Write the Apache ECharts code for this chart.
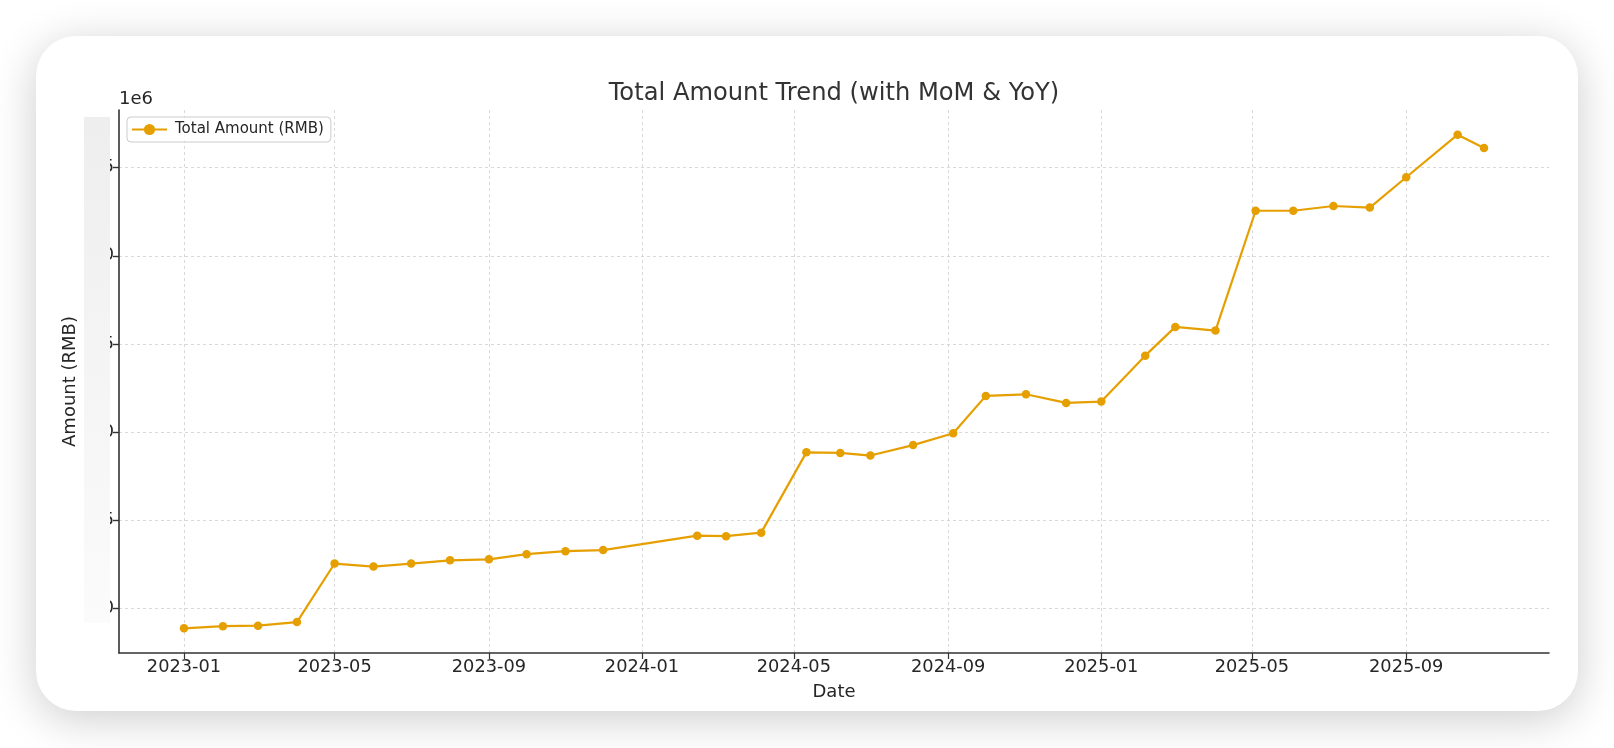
<!DOCTYPE html>
<html>
<head>
<meta charset="utf-8">
<script src="https://cdn.jsdelivr.net/npm/echarts@6/dist/echarts.min.js"></script>
<style>
html,body{margin:0;padding:0;background:#ffffff;}
#chart{width:1614px;height:748px;}
</style>
</head>
<body>
<div id="chart"></div>
<script>
// ---- data ----
const dates = ['2023-01-01','2023-02-01','2023-03-01','2023-04-01','2023-05-01','2023-06-01','2023-07-01','2023-08-01','2023-09-01','2023-10-01','2023-11-01','2023-12-01',
  '2024-02-14','2024-03-08','2024-04-05','2024-05-11','2024-06-07','2024-07-01','2024-08-04','2024-09-05','2024-10-01','2024-11-02','2024-12-04',
  '2025-01-01','2025-02-05','2025-03-01','2025-04-02','2025-05-04','2025-06-03','2025-07-05','2025-08-03','2025-09-01','2025-10-12','2025-11-02'];
const amounts = [889000,901000,904000,924000,1256000,1239000,1256000,1274000,1280000,1309000,1326000,1332000,
  1414000,1411000,1431000,1886000,1883000,1868000,1927000,1994000,2206000,2215000,2166000,
  2174000,2434000,2597000,2576000,3255000,3255000,3282000,3273000,3445000,3686000,3611000];
const xTickDates = ['2023-01-01','2023-05-01','2023-09-01','2024-01-01','2024-05-01','2024-09-01','2025-01-01','2025-05-01','2025-09-01'];
const yTickValues = [1000000,1500000,2000000,2500000,3000000,3500000];
const seriesName = 'Total Amount (RMB)';

const t = s => { const [y,m,d] = s.split('-').map(Number); return new Date(y, m-1, d).getTime(); };
const DAY = 86400000;
const xMin = t('2023-01-01') - 51.8*DAY;
const xMax = t('2025-11-02') + 51.8*DAY;
const xTicks = xTickDates.map(t);

const chart = echarts.init(document.getElementById('chart'), null, {renderer:'canvas'});
const FONT = 'DejaVu Sans';
const TXT = '#262626';
const GRIDC = '#d4d4d4';

chart.setOption({
  animation:false,
  backgroundColor:'#ffffff',
  textStyle:{fontFamily:FONT},
  title:{
    text:'Total Amount Trend (with MoM & YoY)',
    left:829, textAlign:'center', top:77,
    textStyle:{fontFamily:FONT,fontSize:24.2,fontWeight:'normal',color:'#333333'}
  },
  legend:{
    left:127, top:117,
    orient:'vertical',
    padding:[5,7,5,4],
    itemWidth:35, itemHeight:14, itemGap:4,
    backgroundColor:'rgba(255,255,255,0.8)',
    borderColor:'#cccccc', borderWidth:1, borderRadius:4,
    textStyle:{fontFamily:FONT,fontSize:15,color:TXT,padding:[0,0,0,3]},
    data:[seriesName]
  },
  grid:{left:119,right:65,top:110,bottom:95,containLabel:false},
  xAxis:{
    type:'value', min:xMin, max:xMax, scale:true,
    name:'Date', nameLocation:'middle', nameGap:30, nameMoveOverlap:false,
    nameTextStyle:{fontFamily:FONT,fontSize:18,color:TXT},
    axisLine:{show:true,onZero:false,lineStyle:{color:'#333333',width:1.6}},
    axisTick:{show:true,length:6,lineStyle:{color:'#333333',width:1.2},customValues:xTicks},
    axisLabel:{margin:5,fontFamily:FONT,fontSize:17.8,color:TXT,customValues:xTicks,
      formatter:v=>{const d=new Date(v);return d.getFullYear()+'-'+String(d.getMonth()+1).padStart(2,'0');}},
    splitLine:{show:true,lineStyle:{color:GRIDC,width:0.9,type:[3,3]}}
  },
  yAxis:{
    type:'value', min:749000, max:3826000,
    name:'Amount (RMB)', nameLocation:'middle', nameGap:40, nameRotate:90, nameMoveOverlap:false,
    nameTextStyle:{fontFamily:FONT,fontSize:18,color:TXT},
    axisLine:{show:true,onZero:false,lineStyle:{color:'#333333',width:1.6}},
    axisTick:{show:true,length:6,lineStyle:{color:'#333333',width:1.4},customValues:yTickValues},
    axisLabel:{margin:5,fontFamily:FONT,fontSize:17.8,color:TXT,customValues:yTickValues,
      formatter:v=>(v/1e6).toFixed(1)},
    splitLine:{show:true,lineStyle:{color:GRIDC,width:0.9,type:[3,3]}}
  },
  series:[{
    name:seriesName, type:'line',
    data:dates.map((d,i)=>[t(d),amounts[i]]),
    symbol:'circle', symbolSize:8.5,
    lineStyle:{color:'#E69F00',width:2.2},
    itemStyle:{color:'#E69F00'},
    z:5
  }],
  graphic:[
    {type:'rect',z:-10,silent:true,shape:{x:36,y:36,width:1542,height:675,r:40},
      style:{fill:'#ffffff',shadowBlur:45,shadowColor:'rgba(0,0,0,0.20)',shadowOffsetX:0,shadowOffsetY:8}},
    {type:'rect',z:100,silent:true,shape:{x:84,y:117,width:26,height:506},
      style:{fill:new echarts.graphic.LinearGradient(0,0,1,1,[{offset:0,color:'#eeeeee'},{offset:1,color:'#fbfbfb'}])}},
    {type:'text',z:100,silent:true,x:119,y:99,
      style:{text:'1e6',font:'18px "DejaVu Sans"',fill:TXT,textVerticalAlign:'middle',textAlign:'left'}}
  ]
});
</script>
</body>
</html>
